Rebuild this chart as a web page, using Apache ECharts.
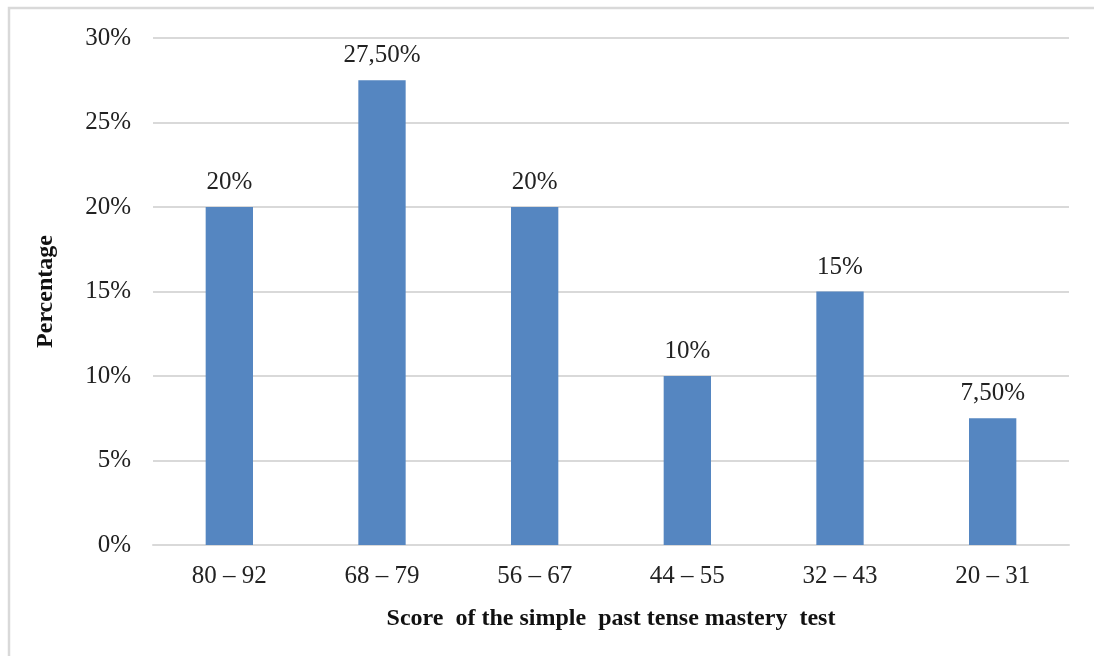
<!DOCTYPE html>
<html><head><meta charset="utf-8">
<script src="https://cdn.jsdelivr.net/npm/echarts@6/dist/echarts.min.js"></script>
<style>html,body{margin:0;padding:0;background:#fff}#c{width:1094px;height:656px}</style>
</head><body><div id="c"></div>
<script>
var categories = ['80 – 92','68 – 79','56 – 67','44 – 55','32 – 43','20 – 31'];
var values = [20, 27.5, 20, 10, 15, 7.5];
var valueLabels = ['20%','27,50%','20%','10%','15%','7,50%'];
var yTicks = [0, 5, 10, 15, 20, 25, 30];

var chart = echarts.init(document.getElementById('c'), null, {renderer:'canvas'});
var font = '"Liberation Serif", "Times New Roman", serif';
chart.setOption({
  animation: false,
  graphic: [{
    type: 'rect', shape: {x: 9, y: 8, width: 1100, height: 670},
    style: {fill: 'none', stroke: '#d9d9d9', lineWidth: 2.5}, silent: true
  }],
  grid: {left: 153, right: 25, top: 38, bottom: 111},
  xAxis: {
    type: 'category', data: categories,
    axisTick: {show: false},
    axisLine: {show: true, lineStyle: {color: '#d9d9d9', width: 2}},
    axisLabel: {fontFamily: font, fontSize: 25, color: '#222', margin: 19},
    name: 'Score  of the simple  past tense mastery  test',
    nameLocation: 'middle', nameGap: 62,
    nameTextStyle: {fontFamily: font, fontSize: 24, fontWeight: 'bold', color: '#111'}
  },
  yAxis: {
    type: 'value', min: yTicks[0], max: yTicks[yTicks.length-1], interval: 5,
    axisLine: {show: false}, axisTick: {show: false},
    splitLine: {lineStyle: {color: '#d9d9d9', width: 2}},
    axisLabel: {fontFamily: font, fontSize: 25, color: '#222', margin: 22,
      formatter: function(v){ return v + '%'; }},
    name: 'Percentage', nameLocation: 'middle', nameGap: 95,
    nameTextStyle: {fontFamily: font, fontSize: 24, fontWeight: 'bold', color: '#111'}
  },
  series: [{
    type: 'bar', data: values, barWidth: '31%',
    itemStyle: {color: '#5586C1'},
    label: {show: true, position: 'top', distance: 12,
      fontFamily: font, fontSize: 25, color: '#222',
      formatter: function(p){ return valueLabels[p.dataIndex]; }}
  }]
});
</script></body></html>
